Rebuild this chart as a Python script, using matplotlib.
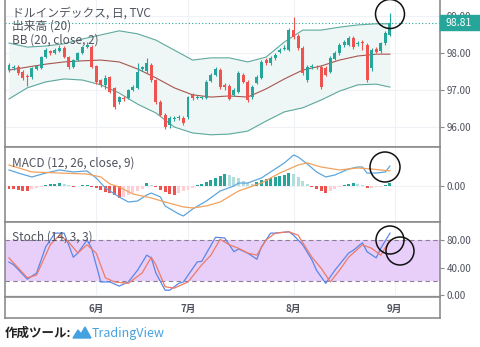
import matplotlib.pyplot as plt
from matplotlib.patches import Rectangle, Circle, Polygon

plt.rcParams['font.family'] = ['Noto Sans CJK JP', 'DejaVu Sans']

W, H = 480, 347

# 日足 (バー番号 0..83)
opens = [97.53, 97.58, 97.61, 97.48, 97.38, 97.34, 97.56, 97.59, 97.88, 98.05,
         98.00, 98.05, 98.13, 97.88, 97.61, 97.80, 97.99, 98.15, 98.16, 97.64,
         97.26, 97.13, 97.34, 97.05, 96.67, 96.78, 96.78, 96.99, 97.05, 97.57,
         97.50, 97.67, 97.26, 96.67, 96.32, 96.05, 96.20, 96.23, 96.24, 96.26,
         96.86, 96.78, 96.77, 96.78, 97.24, 97.40, 97.53, 97.13, 97.10, 96.86,
         96.94, 97.40, 97.21, 96.80, 97.18, 97.32, 97.80, 97.72, 97.86, 98.02,
         98.10, 98.07, 98.61, 98.45, 98.13, 97.26, 97.62, 97.62, 97.61, 97.59,
         97.48, 97.83, 97.99, 98.21, 98.21, 98.40, 98.24, 98.29, 98.21, 97.59,
         98.10, 98.05, 98.26, 98.48]
highs = [97.72, 97.66, 97.66, 97.52, 97.42, 97.62, 97.68, 97.92, 98.12, 98.08,
         98.12, 98.20, 98.18, 97.92, 97.84, 98.02, 98.18, 98.28, 98.22, 97.68,
         97.30, 97.40, 97.38, 97.08, 96.84, 96.82, 97.02, 97.12, 97.72, 97.64,
         97.86, 97.72, 97.30, 96.72, 96.36, 96.30, 96.30, 96.32, 96.28, 96.84,
         96.92, 96.86, 96.84, 97.26, 97.45, 97.60, 97.58, 97.18, 97.14, 97.04,
         97.50, 97.45, 97.26, 97.12, 97.40, 97.80, 97.86, 97.90, 97.98, 98.12,
         98.20, 98.66, 98.96, 98.50, 98.18, 97.66, 97.70, 97.68, 97.66, 97.64,
         97.90, 98.04, 98.26, 98.34, 98.44, 98.46, 98.32, 98.34, 98.26, 98.12,
         98.14, 98.30, 98.58, 99.07]
lows = [97.48, 97.52, 97.40, 97.26, 97.10, 97.30, 97.52, 97.55, 97.85, 97.95,
        97.97, 98.02, 97.85, 97.56, 97.58, 97.77, 97.96, 98.12, 97.58, 97.16,
        97.08, 97.02, 96.90, 96.48, 96.62, 96.70, 96.74, 96.96, 97.02, 97.50,
        97.46, 97.22, 96.62, 96.28, 95.94, 95.96, 96.15, 96.18, 96.05, 96.22,
        96.72, 96.74, 96.74, 96.74, 97.20, 97.36, 97.02, 96.98, 96.72, 96.82,
        96.90, 97.18, 96.68, 96.76, 97.14, 97.28, 97.66, 97.68, 97.80, 97.98,
        98.06, 98.04, 98.38, 98.08, 97.40, 97.20, 97.56, 97.55, 97.02, 97.36,
        97.44, 97.80, 97.95, 98.16, 98.18, 98.10, 98.18, 98.07, 97.20, 97.50,
        97.98, 98.00, 98.22, 98.45]
closes = [97.67, 97.60, 97.45, 97.32, 97.33, 97.59, 97.64, 97.88, 98.07, 97.99,
          98.07, 98.13, 97.88, 97.61, 97.80, 97.99, 98.15, 98.21, 97.61, 97.21,
          97.13, 97.32, 96.94, 96.53, 96.80, 96.75, 96.99, 97.07, 97.48, 97.61,
          97.72, 97.26, 96.67, 96.32, 95.99, 96.24, 96.24, 96.27, 96.10, 96.80,
          96.78, 96.80, 96.80, 97.21, 97.40, 97.56, 97.07, 97.07, 96.75, 96.99,
          97.45, 97.21, 96.72, 97.07, 97.34, 97.75, 97.72, 97.86, 97.94, 98.07,
          98.13, 98.61, 98.42, 98.13, 97.45, 97.61, 97.64, 97.60, 97.07, 97.40,
          97.86, 97.99, 98.21, 98.29, 98.40, 98.15, 98.26, 98.26, 97.26, 98.07,
          98.02, 98.26, 98.53, 98.81]
last_price = 98.81

# ボリンジャーバンド (20, close, 2)
bb_x = [0, 4, 8, 12, 16, 20, 24, 28, 32, 36, 40, 44, 48, 52, 56, 60, 64, 68,
        72, 76, 80, 83]
bb_upper = [98.26, 98.15, 98.18, 98.24, 98.37, 98.48, 98.59, 98.51, 98.34,
            98.07, 97.80, 97.86, 97.86, 97.75, 97.88, 98.29, 98.61, 98.61,
            98.69, 98.75, 98.78, 98.78]
bb_mid = [97.53, 97.61, 97.69, 97.75, 97.78, 97.80, 97.75, 97.56, 97.32,
          97.05, 96.86, 96.80, 96.83, 96.80, 97.02, 97.29, 97.53, 97.64,
          97.80, 97.91, 97.96, 97.96]
bb_lower = [96.75, 97.05, 97.21, 97.29, 97.26, 97.13, 96.91, 96.61, 96.37,
            95.99, 95.83, 95.78, 95.80, 95.88, 96.15, 96.40, 96.51, 96.72,
            96.96, 97.13, 97.15, 97.07]

# MACD (12, 26, close, 9)
macd_x = [0, 2, 5, 8, 11, 14, 17, 19, 21, 24, 26, 28, 30, 31, 33, 34, 37, 38,
          40, 43, 46, 49, 50, 52, 55, 57, 60, 62, 63, 65, 67, 69, 71, 74, 76,
          77, 78, 80, 82, 83]
macd_line = [0.178, 0.144, 0.100, 0.144, 0.178, 0.156, 0.167, 0.089, -0.022,
             -0.122, -0.178, -0.167, -0.100, -0.078, -0.122, -0.222, -0.311,
             -0.333, -0.256, -0.167, -0.056, 0.000, 0.033, 0.033, 0.089, 0.156,
             0.256, 0.344, 0.322, 0.244, 0.156, 0.100, 0.122, 0.189, 0.211,
             0.211, 0.144, 0.144, 0.156, 0.222]
signal_x = [0, 5, 11, 17, 20, 22, 24, 27, 31, 34, 38, 40, 43, 46, 50, 55, 59,
            63, 65, 68, 72, 76, 79, 83]
signal_line = [0.233, 0.156, 0.144, 0.133, 0.100, 0.022, -0.011, -0.089,
               -0.133, -0.178, -0.233, -0.244, -0.222, -0.178, -0.056, 0.033,
               0.144, 0.233, 0.256, 0.211, 0.178, 0.200, 0.189, 0.167]
hist = [-0.033, -0.033, -0.044, -0.056, -0.056, -0.033, -0.022, -0.011, 0.011,
        0.022, 0.022, 0.033, 0.022, 0.011, -0.011, 0.004, 0.011, 0.011, -0.011,
        -0.022, -0.044, -0.067, -0.078, -0.100, -0.133, -0.122, -0.100, -0.078,
        -0.056, -0.033, 0.033, 0.011, -0.011, -0.044, -0.067, -0.089, -0.100,
        -0.078, -0.056, -0.044, -0.022, 0.011, 0.022, 0.044, 0.067, 0.089,
        0.111, 0.133, 0.122, 0.100, 0.089, 0.056, 0.033, 0.022, 0.044, 0.067,
        0.078, 0.089, 0.100, 0.111, 0.122, 0.144, 0.133, 0.100, 0.056, 0.022,
        -0.011, -0.033, -0.056, -0.078, -0.056, -0.033, -0.011, 0.011, 0.022,
        0.028, 0.022, 0.011, -0.022, -0.017, -0.011, -0.006, 0.011, 0.033]

# ストキャスティクス (14, 3, 3)
k_x = [0, 1, 4, 6, 8, 10, 12, 13, 14, 15, 17, 18, 20, 22, 24, 26, 28, 30, 31,
       32, 34, 35, 37, 38, 41, 42, 45, 47, 49, 50, 52, 54, 55, 57, 58, 61, 62,
       64, 66, 67, 69, 71, 74, 75, 77, 78, 80, 81, 83]
k_line = [48, 44, 23, 32, 70, 90, 90, 73, 55, 61, 80, 68, 19, 19, 13, 19, 36,
          58, 54, 32, 7, 7, 17, 19, 48, 49, 84, 83, 63, 67, 61, 52, 70, 90, 90,
          92, 87, 73, 51, 36, 17, 36, 61, 65, 76, 63, 54, 68, 90]
d_x = [0, 4, 6, 9, 11, 13, 15, 17, 19, 21, 23, 26, 29, 31, 32, 34, 36, 39, 42,
       44, 46, 48, 50, 52, 54, 56, 58, 61, 63, 64, 66, 68, 70, 72, 74, 77, 79,
       81, 83]
d_line = [54, 25, 29, 73, 87, 77, 61, 73, 61, 25, 19, 17, 32, 55, 44, 12, 10,
          19, 44, 58, 81, 73, 68, 61, 58, 80, 90, 92, 87, 76, 55, 39, 19, 36,
          55, 73, 68, 58, 80]

month_pos = [19, 39, 62, 84]
month_labels = ['6月', '7月', '8月', '9月']

up_col = '#26a69a'
down_col = '#ef5350'
frame_col = '#8c8c8c'
grid_col = '#eef1f5'
text_col = '#50535e'


def box(x0, y0, x1, y1):
    return [x0 / W, 1 - y1 / H, (x1 - x0) / W, (y1 - y0) / H]


fig = plt.figure(figsize=(W / 100, H / 100), dpi=100)
ax = fig.add_axes(box(5, 0, 440, 147))
ax_macd = fig.add_axes(box(5, 147, 440, 222))
ax_st = fig.add_axes(box(5, 222, 440, 297))
ax_t = fig.add_axes(box(5, 297, 440, 318))

xlim = (-0.87, 93.9)
for a in (ax, ax_macd, ax_st, ax_t):
    a.set_xlim(*xlim)
    a.set_xticks(month_pos)
    a.tick_params(axis='x', length=0, labelbottom=False)
    a.yaxis.tick_right()
    a.tick_params(axis='y', length=3, width=0.8, color=frame_col,
                  labelsize=7, labelcolor=text_col, pad=2)
    a.grid(True, color=grid_col, lw=0.8)
    a.set_axisbelow(True)
    for s in a.spines.values():
        s.set_color(frame_col)
        s.set_linewidth(1.2)
ax.spines['top'].set_visible(False)

# ローソク足とBB
ax.fill_between(bb_x, bb_lower, bb_upper, color='#eef7f6', lw=0, zorder=1)
ax.plot(bb_x, bb_upper, color='#5ea89e', lw=0.8, zorder=2)
ax.plot(bb_x, bb_lower, color='#5ea89e', lw=0.8, zorder=2)
ax.plot(bb_x, bb_mid, color='#a8554f', lw=0.8, zorder=2)
for i in range(len(opens)):
    o, h, l, c = opens[i], highs[i], lows[i], closes[i]
    col = up_col if c >= o else down_col
    ax.vlines(i, l, h, color=col, lw=0.8, zorder=3)
    ax.bar(i, max(abs(c - o), 0.015), bottom=min(o, c), width=0.65,
           color=col, lw=0, zorder=4)
ax.axhline(last_price, color=up_col, lw=0.8, ls=(0, (1, 2)), zorder=2)
ax.set_ylim(95.45, 99.424)
ax.set_yticks([96, 97, 98, 99])
ax.set_yticklabels(['96.00', '97.00', '98.00', '99.00'])

fig.patches.append(Rectangle((440 / W, 1 - 30 / H), 40 / W, 15 / H,
                             transform=fig.transFigure, color=up_col,
                             zorder=10))
fig.text(459 / W, 1 - 22.5 / H, f'{last_price:.2f}', color='white',
         fontsize=7.5, ha='center', va='center', zorder=11)

# MACD
hist_cols = []
for i, hv in enumerate(hist):
    prev = hist[i - 1] if i > 0 else hv
    if hv >= 0:
        hist_cols.append('#26a69a' if hv >= prev else '#b2dfdb')
    else:
        hist_cols.append('#ef5350' if hv <= prev else '#ffcdd2')
ax_macd.bar(range(len(hist)), hist, width=0.65, color=hist_cols, lw=0,
            zorder=2)
ax_macd.plot(macd_x, macd_line, color='#5ea6dd', lw=0.9, zorder=3)
ax_macd.plot(signal_x, signal_line, color='#f2a25e', lw=0.9, zorder=3)
ax_macd.set_ylim(-0.4, 0.433)
ax_macd.set_yticks([0])
ax_macd.set_yticklabels(['0.00'])

# ストキャスティクス
ax_st.axhspan(20, 80, color='#e7cffa', lw=0, zorder=1)
for lv in (20, 80):
    ax_st.axhline(lv, color='#8a7f96', lw=0.8, ls=(0, (4, 3)), zorder=2)
ax_st.plot(k_x, k_line, color='#5b86e6', lw=0.9, zorder=3)
ax_st.plot(d_x, d_line, color='#ee7a66', lw=0.9, zorder=3)
ax_st.set_ylim(-2.9, 106.2)
ax_st.set_yticks([0, 40, 80])
ax_st.set_yticklabels(['0.00', '40.00', '80.00'])

# 時間軸
ax_t.set_ylim(0, 1)
ax_t.set_yticks([])
ax_t.grid(False)
for pos, lab in zip(month_pos, month_labels):
    ax_t.text(pos, 0.45, lab, ha='center', va='center', fontsize=7,
              color=text_col, fontweight='bold')

# 凡例テキスト
fig.text(12 / W, 1 - 13 / H, 'ドルインデックス, 日, TVC', fontsize=8.5,
         color=text_col, va='center')
fig.text(12 / W, 1 - 26 / H, '出来高 (20)', fontsize=8.5, color=text_col,
         va='center')
fig.text(12 / W, 1 - 40 / H, 'BB (20, close, 2)', fontsize=8.5,
         color=text_col, va='center')
fig.text(12 / W, 1 - 163 / H, 'MACD (12, 26, close, 9)', fontsize=8.5,
         color=text_col, va='center')
fig.text(12 / W, 1 - 237 / H, 'Stoch (14, 3, 3)', fontsize=8.5,
         color=text_col, va='center')

# 手書きの丸印
for cx, cy, r in [(390, 14, 14.5), (385, 167, 15), (390, 240, 14),
                  (400, 251, 14)]:
    fig.patches.append(Circle((cx / 100, (H - cy) / 100), r / 100,
                              transform=fig.dpi_scale_trans, fill=False,
                              ec='#111111', lw=1.1, zorder=12))

# フッター
fig.text(5 / W, 1 - 333 / H, '作成ツール:', fontsize=9, color='#222222',
         fontweight='bold', va='center')
logo = [(73, 338), (78, 330), (81, 334), (85, 327), (91, 338)]
fig.patches.append(Polygon([(x / W, 1 - y / H) for x, y in logo],
                           closed=True, transform=fig.transFigure,
                           color='#45a2e0', zorder=5))
fig.text(92 / W, 1 - 333 / H, 'TradingView', fontsize=9, color='#45a2e0',
         va='center')

fig.savefig('out.png', dpi=100)
